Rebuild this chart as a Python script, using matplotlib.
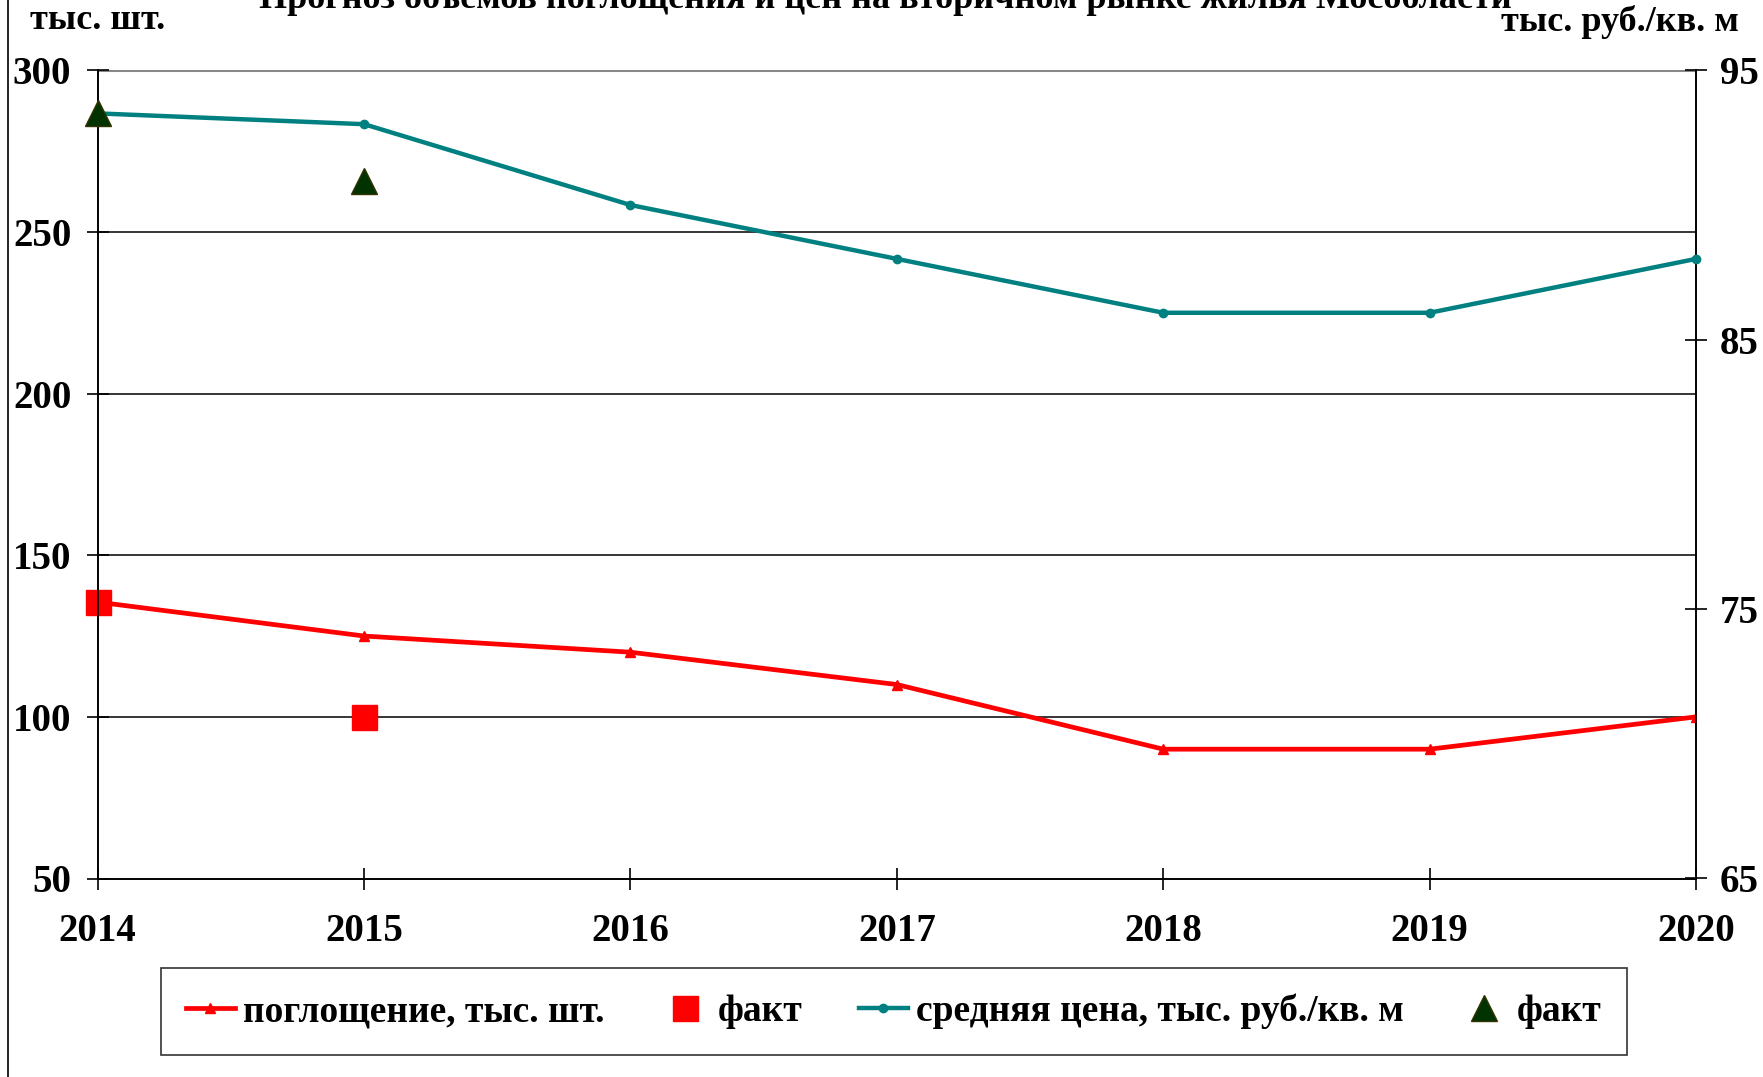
import matplotlib
matplotlib.use("Agg")
import matplotlib.pyplot as plt
from matplotlib.lines import Line2D

W, H = 1763, 1077

years = [2014, 2015, 2016, 2017, 2018, 2019, 2020]
volume = [135.5, 125, 120, 110, 90, 90, 100]
volume_fact_years = [2014, 2015]
volume_fact = [135.5, 100]
price = [93.4, 93.0, 90, 88, 86, 86, 88]
price_fact_years = [2014, 2015]
price_fact = [93.4, 90.9]

left_ticks = [50, 100, 150, 200, 250, 300]
right_ticks = [65, 75, 85, 95]

title = "Прогноз объемов поглощения и цен на вторичном рынке жилья Мособласти"
left_unit = "тыс. шт."
right_unit = "тыс. руб./кв. м"
legend_labels = ["поглощение, тыс. шт.", "факт", "средняя цена, тыс. руб./кв. м", "факт"]

RED = "#ff0000"
TEAL = "#008080"
DKGREEN = "#003300"

plt.rcParams['font.family'] = ['Liberation Serif', 'DejaVu Serif']
plt.rcParams['font.weight'] = 'bold'
FS = 26
TFS = 28

fig = plt.figure(figsize=(W / 100, H / 100), dpi=100)
# рамка слева
fig.add_artist(Line2D([7.5 / W, 7.5 / W], [0, 1], color="black", lw=1.2))

ax_l, ax_r = 97.7 / W, 1696 / W
ax_b, ax_t = 1 - 878.5 / H, 1 - 70.3 / H
ax = fig.add_axes([ax_l, ax_b, ax_r - ax_l, ax_t - ax_b])
ax2 = ax.twinx()

ax.set_xlim(2014, 2020)
ax.set_ylim(50, 300)
ax2.set_ylim(65, 95)
ax.set_xticks(years)
ax.set_yticks(left_ticks)
ax2.set_yticks(right_ticks)

for y in left_ticks[1:-1]:
    ax.axhline(y, color="black", lw=1.1, zorder=1)
ax.axhline(300, color="#888888", lw=2.2, zorder=1)

for a in (ax, ax2):
    for s in a.spines.values():
        s.set_linewidth(1.2)
    a.spines['top'].set_visible(False)

ax.tick_params(axis='both', direction='inout', length=16, width=1.2, labelsize=TFS)
ax.tick_params(axis='x', pad=17)
ax.tick_params(axis='y', pad=11)
ax2.tick_params(axis='y', direction='inout', length=16, width=1.2, labelsize=TFS, pad=9)

ax.plot(years, volume, color=RED, lw=3.4, marker='^', ms=7, zorder=3)
ax.plot(volume_fact_years, volume_fact, ls='none', marker='s', ms=18, color=RED, zorder=4, clip_on=False)
ax2.plot(years, price, color=TEAL, lw=3.2, marker='o', ms=6, zorder=3, clip_on=False)
ax2.plot(price_fact_years, price_fact, ls='none', marker='^', ms=19, color=DKGREEN,
         markeredgecolor="#333300", zorder=4, clip_on=False)

fig.text(885 / W, 1 - 8 / H, title, ha='center', va='baseline', fontsize=FS)
fig.text(30 / W, 1 - 29 / H, left_unit, ha='left', va='baseline', fontsize=FS)
fig.text(1739 / W, 1 - 31 / H, right_unit, ha='right', va='baseline', fontsize=FS)

handles = [
    Line2D([], [], color=RED, lw=3.4, marker='^', ms=7),
    Line2D([], [], ls='none', marker='s', ms=18, color=RED),
    Line2D([], [], color=TEAL, lw=3.2, marker='o', ms=6),
    Line2D([], [], ls='none', marker='^', ms=19, color=DKGREEN, markeredgecolor="#333300"),
]
lx0, lx1 = 160.5 / W, 1627 / W
ly0, ly1 = 1 - 1053.5 / H, 1 - 969 / H
leg = fig.legend(handles, legend_labels, ncol=4, loc='center',
                 bbox_to_anchor=(lx0, ly0, lx1 - lx0, ly1 - ly0), mode='expand',
                 fontsize=27, handlelength=1.3, handletextpad=0.22, borderpad=0.68,
                 borderaxespad=0, frameon=True, fancybox=False, numpoints=1)
leg.get_frame().set_edgecolor("black")
leg.get_frame().set_linewidth(1.2)

fig.savefig("out.png", dpi=100)
